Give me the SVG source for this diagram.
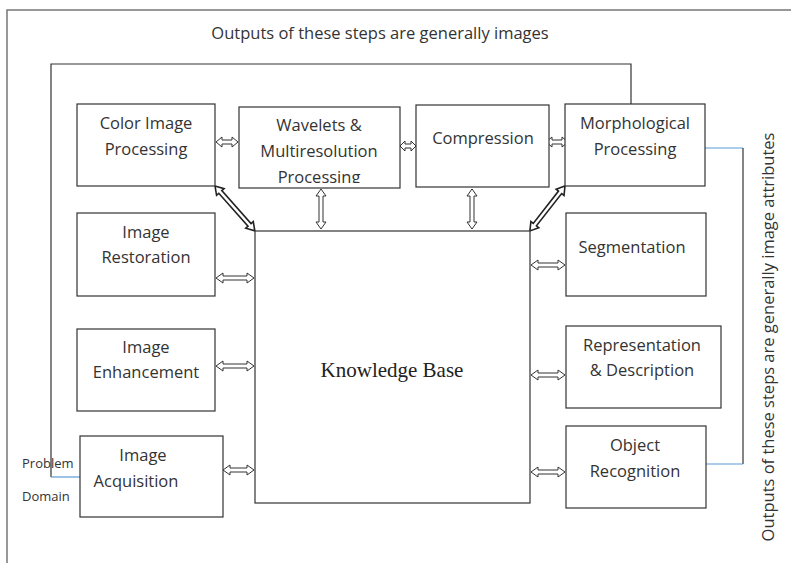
<svg xmlns="http://www.w3.org/2000/svg" width="791" height="563" viewBox="0 0 791 563">
<defs>
<style>
.box{fill:#fff;stroke:#333;stroke-width:1.2}
.ln{fill:none;stroke:#333;stroke-width:1.2}
.frame{fill:none;stroke:#777;stroke-width:1.5}
.blue{fill:none;stroke:#5b9bd5;stroke-width:1.2}
.arr{fill:#fff;stroke:#333;stroke-width:1}
.darr{fill:#fff;stroke:#222;stroke-width:1.6}
.t{font-family:"Open Sans","Noto Sans",sans-serif;font-size:16.5px;fill:#333;text-anchor:middle}
.s{font-family:"Open Sans","Noto Sans",sans-serif;font-size:13px;fill:#333}
.kb{font-family:"Liberation Serif","Times New Roman",serif;font-size:21px;fill:#222;text-anchor:middle}
</style>
<clipPath id="wclip"><rect x="239" y="107" width="161" height="76"/></clipPath>
</defs>
<rect width="791" height="563" fill="#fff"/>
<g id="frame">
<path class="frame" d="M7,563 V10 H791"/>
</g>
<g id="connectors">
<path class="ln" d="M51,477 V64 H631 V104"/>
<path class="blue" d="M51,477 H80"/>
<path class="blue" d="M705,148 H743"/>
<path class="ln" d="M743,148 V464"/>
<path class="blue" d="M706,464 H743"/>
<path class="arr" d="M216,142 l6,-5 v3 h10 v-3 l6,5 l-6,5 v-3 h-10 v3 z"/>
<path class="arr" d="M400,146 l5,-5 v3 h6 v-3 l5,5 l-5,5 v-3 h-6 v3 z"/>
<path class="arr" d="M546,142 l6,-5 v3 h10 v-3 l6,5 l-6,5 v-3 h-10 v3 z"/>
<path class="arr" d="M216,278 l7,-5 v3 h24 v-3 l7,5 l-7,5 v-3 h-24 v3 z"/>
<path class="arr" d="M216,366 l7,-5 v3 h24 v-3 l7,5 l-7,5 v-3 h-24 v3 z"/>
<path class="arr" d="M223,470 l7,-5 v3 h17 v-3 l7,5 l-7,5 v-3 h-17 v3 z"/>
<path class="arr" d="M531,265 l7,-5 v3 h20 v-3 l7,5 l-7,5 v-3 h-20 v3 z"/>
<path class="arr" d="M531,375 l7,-5 v3 h20 v-3 l7,5 l-7,5 v-3 h-20 v3 z"/>
<path class="arr" d="M531,472 l7,-5 v3 h20 v-3 l7,5 l-7,5 v-3 h-20 v3 z"/>
<path class="arr" d="M321,189 l-5,7 h3 v26 h-3 l5,7 l5,-7 h-3 v-26 h3 z"/>
<path class="arr" d="M472,189 l-5,7 h3 v26 h-3 l5,7 l5,-7 h-3 v-26 h3 z"/>
<path class="darr" transform="translate(215,186) rotate(48.4)" d="M0,0 l8,-5 v3 h44 v-3 l8,5 l-8,5 v-3 h-44 v3 z"/>
<path class="darr" transform="translate(565,186) rotate(128)" d="M0,0 l8,-5 v3 h41 v-3 l8,5 l-8,5 v-3 h-41 v3 z"/>
</g>
<g id="kb">
<rect class="box" x="255" y="231" width="275" height="272"/>
<text class="kb" x="392" y="377">Knowledge Base</text>
</g>
<g id="color">
<rect class="box" x="77" y="104" width="138" height="82"/>
<text class="t" x="146" y="129">Color Image</text>
<text class="t" x="146" y="155">Processing</text>
</g>
<g id="wavelets">
<rect class="box" x="239" y="107" width="161" height="81"/>
<g clip-path="url(#wclip)">
<text class="t" x="319" y="131">Wavelets &amp;</text>
<text class="t" x="319" y="157">Multiresolution</text>
<text class="t" x="319" y="183">Processing</text>
</g>
</g>
<g id="compression">
<rect class="box" x="416" y="105" width="133" height="82"/>
<text class="t" x="483" y="144">Compression</text>
</g>
<g id="morph">
<rect class="box" x="565" y="104" width="140" height="82"/>
<text class="t" x="635" y="129">Morphological</text>
<text class="t" x="635" y="155">Processing</text>
</g>
<g id="restoration">
<rect class="box" x="77" y="213" width="138" height="83"/>
<text class="t" x="146" y="238">Image</text>
<text class="t" x="146" y="263">Restoration</text>
</g>
<g id="enhancement">
<rect class="box" x="77" y="329" width="138" height="82"/>
<text class="t" x="146" y="353">Image</text>
<text class="t" x="146" y="378">Enhancement</text>
</g>
<g id="acquisition">
<rect class="box" x="80" y="436" width="143" height="81"/>
<text class="t" x="143" y="461">Image</text>
<text class="t" x="136" y="487">Acquisition</text>
</g>
<g id="problem">
<text class="s" x="22" y="468">Problem</text>
<text class="s" x="22" y="501">Domain</text>
</g>
<g id="segmentation">
<rect class="box" x="566" y="213" width="140" height="83"/>
<text class="t" x="632" y="253">Segmentation</text>
</g>
<g id="representation">
<rect class="box" x="566" y="326" width="155" height="82"/>
<text class="t" x="642" y="351">Representation</text>
<text class="t" x="642" y="376">&amp; Description</text>
</g>
<g id="recognition">
<rect class="box" x="566" y="426" width="140" height="82"/>
<text class="t" x="635" y="451">Object</text>
<text class="t" x="635" y="477">Recognition</text>
</g>
<g id="labels">
<text class="t" x="380" y="39">Outputs of these steps are generally images</text>
<text class="t" transform="translate(774,337) rotate(-90)">Outputs of these steps are generally image attributes</text>
</g>
</svg>
